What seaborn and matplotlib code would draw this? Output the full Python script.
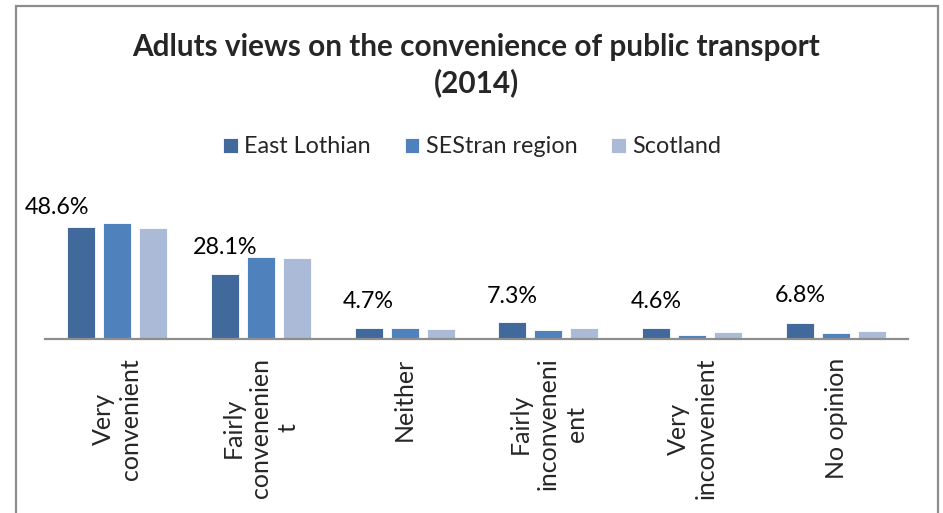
import matplotlib
matplotlib.use("Agg")
import matplotlib.pyplot as plt
import matplotlib.patches as mpatches
import seaborn as sns
import pandas as pd

categories = ["Very convenient", "Fairly convenenient", "Neither",
              "Fairly inconvenenient", "Very inconvenient", "No opinion"]
tick_labels = ["Very\nconvenient", "Fairly\nconvenenien\nt", "Neither",
               "Fairly\ninconveneni\nent", "Very\ninconvenient", "No opinion"]
areas = ["East Lothian", "SEStran region", "Scotland"]
east_lothian = [48.6, 28.1, 4.7, 7.3, 4.6, 6.8]
sestran = [50.3, 35.7, 4.7, 3.8, 1.8, 2.6]
scotland = [48.2, 35.2, 4.4, 4.6, 2.9, 3.6]
colors = ["#41699B", "#4F81BD", "#AABAD7"]

df = pd.DataFrame({
    "category": categories * 3,
    "area": [a for a in areas for _ in categories],
    "value": east_lothian + sestran + scotland,
})

sns.set_theme(style="white")
plt.rcParams["font.family"] = ["Lato", "DejaVu Sans"]

W, H = 943, 513
fig = plt.figure(figsize=(W / 100, H / 100), dpi=100)
fig.patch.set_facecolor("white")

# plot area in pixel terms
x0, x1, ybase, ytop = 45, 908, 339, 185
ax = fig.add_axes([x0 / W, 1 - ybase / H, (x1 - x0) / W, (ybase - ytop) / H])
px_per_pct = 2.3
ax.set_ylim(0, (ybase - ytop) / px_per_pct)

sns.barplot(data=df, x="category", y="value", hue="area", order=categories,
            hue_order=areas, palette=colors, saturation=1, width=0.75, gap=0.22,
            edgecolor="white", linewidth=0.6, ax=ax, legend=True)
ax.set_xlim(-0.5, len(categories) - 0.5)

# value labels for East Lothian
label_offsets = [(-24, 20), (0, 27), (0, 27), (0, 26), (0, 27), (0, 28)]
for bar, v, (dx, dy) in zip(ax.containers[0], east_lothian, label_offsets):
    ax.annotate(f"{v:.1f}%", (bar.get_x() + bar.get_width() / 2, v),
                xytext=(dx, dy), textcoords="offset pixels",
                ha="center", va="center", fontsize=16.8, color="#000000",
                annotation_clip=False)

ax.set_xticks(range(len(categories)))
ax.set_xticklabels(tick_labels, rotation=90, va="top", ha="center",
                   multialignment="center", fontsize=18, linespacing=1.25)
ax.tick_params(axis="x", length=0, pad=13.5)
ax.set_yticks([])
ax.set_xlabel("")
ax.set_ylabel("")
for s in ["left", "right", "top"]:
    ax.spines[s].set_visible(False)
ax.spines["bottom"].set_color("#8E8E8E")
ax.spines["bottom"].set_linewidth(1.6)

# legend in a single row under the title
sns.move_legend(ax, "center", bbox_to_anchor=(472 / W, 1 - 147 / H),
                bbox_transform=fig.transFigure, ncol=3, frameon=False,
                title=None, fontsize=16.8, handlelength=0.64, handleheight=0.64,
                handletextpad=0.26, columnspacing=1.46)

fig.text(476 / W, 1 - 47 / H, "Adluts views on the convenience of public transport",
         ha="center", va="center", fontsize=21.4, fontweight="bold")
fig.text(476 / W, 1 - 83 / H, "(2014)",
         ha="center", va="center", fontsize=21.4, fontweight="bold")

# chart area border
fig.add_artist(mpatches.Rectangle((15.5 / W, -0.05), (938 - 15.5) / W,
                                  1.05 - 5.5 / H, transform=fig.transFigure,
                                  fill=False, edgecolor="#8C8C8C", linewidth=1.6,
                                  clip_on=False))

fig.savefig("out.png", dpi=100, facecolor="white")
